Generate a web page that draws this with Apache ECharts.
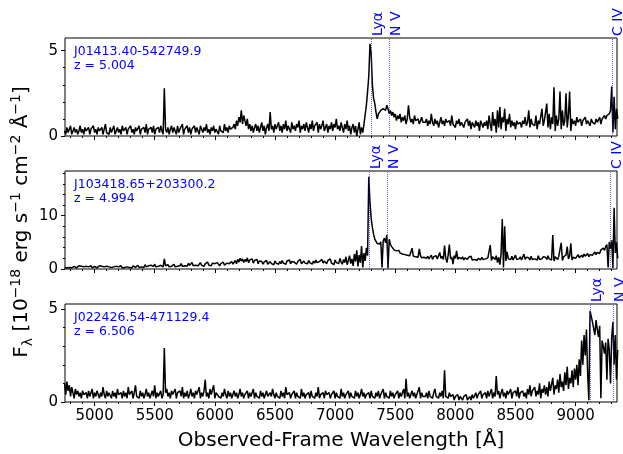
<!DOCTYPE html>
<html><head><meta charset="utf-8">
<script src="https://cdn.jsdelivr.net/npm/echarts@6/dist/echarts.min.js"></script>
<style>html,body{margin:0;padding:0;background:#fff}#c{width:623px;height:454px}</style>
</head><body><div id="c"></div>
<script>
const lamStart = 4750, lamStep = 10;

// J01413.40-542749.9  (z = 5.004)
const flux1 = [
0.3,0.1,0.5,0.2,0.4,0.6,0.1,0.3,0.5,0.2, 0.4,0.1,0.3,0.6,0.2,0.4,0.1,0.5,0.3,0.2, 0.5,0.1,0.4,0.3,0.6,0.2,0.4,0.1,0.5,0.3, 0.2,0.5,0.1,0.4,0.7,0.2,0.3,0.1,0.5,0.2, 0.4,0.6,0.1,0.3,0.5,0.2,0.4,0.1,0.6,0.3,
0.2,0.5,0.1,0.4,0.3,0.6,0.2,0.4,0.1,0.5, 0.3,0.2,0.6,0.1,0.4,0.3,0.5,0.2,0.7,0.1, 0.4,0.3,0.5,0.2,0.6,0.1,0.4,0.3,0.5,0.2, 0.6,0.3,0.1,2.8,0.4,0.2,0.5,0.1,0.4,0.6, 0.2,0.5,0.3,0.1,0.6,0.2,0.4,0.3,0.7,0.1,
0.4,0.3,0.6,0.2,0.5,0.1,0.4,0.3,0.6,0.2, 0.5,0.3,0.1,0.6,0.4,0.2,0.5,0.3,0.7,0.2, 0.4,0.1,0.5,0.3,0.6,0.2,0.4,0.5,0.1,0.6, 0.3,0.4,0.2,0.7,0.3,0.5,0.2,0.6,0.4,0.3, 0.5,0.7,0.4,0.9,0.6,1.1,0.8,1.5,0.7,1.2,
0.9,0.6,1.0,0.4,0.7,0.3,0.6,0.2,0.5,0.7, 0.3,0.6,0.2,0.5,0.8,0.3,0.6,0.1,0.5,0.7, 0.3,1.4,0.4,0.6,0.2,0.7,0.4,0.5,0.8,0.3, 0.6,0.2,0.7,0.4,0.9,0.3,0.6,0.5,0.2,0.8, 0.4,0.6,0.3,0.7,0.5,0.9,0.2,0.6,0.4,0.7,
0.3,0.8,0.5,0.2,0.7,0.4,0.9,0.3,0.6,0.5, 0.8,0.2,0.7,0.4,0.6,0.9,0.3,0.5,0.7,0.2, 0.6,0.4,0.8,0.3,0.7,0.5,1.0,0.4,0.6,0.3, 0.8,0.5,0.2,0.7,0.4,0.9,0.3,0.6,0.1,0.5, 0.7,0.2,0.6,0.0,0.4,0.8,0.1,0.5,0.2,0.7,
0.6,1.8,2.6,3.5,5.4,4.8,3.0,2.2,1.9,1.4, 1.0,1.3,1.2,1.5,1.4,1.6,1.7,1.5,1.8,1.6, 1.3,1.5,1.2,1.4,1.1,1.3,0.9,1.2,1.0,1.3, 0.8,1.1,0.9,1.2,0.7,1.0,1.8,1.1,0.8,1.0, 0.7,1.2,0.9,0.8,1.0,0.7,0.9,1.1,0.8,0.9,
0.8,1.0,0.6,0.9,0.7,1.3,0.8,0.6,1.0,0.7, 0.9,0.5,0.8,1.1,0.7,0.9,0.6,1.0,0.8,0.7, 0.9,0.6,1.2,0.7,0.8,0.5,0.9,0.7,1.0,0.6, 0.8,0.9,0.5,0.8,0.7,1.0,0.6,0.9,0.4,0.8, 0.7,0.5,0.9,0.6,0.8,0.3,0.9,0.7,0.5,0.8,
0.6,0.9,0.4,1.2,0.7,0.3,1.4,0.6,1.0,0.2, 1.5,0.5,1.7,0.4,1.1,0.8,1.6,0.3,1.0,0.7, 1.3,0.5,0.9,0.6,0.8,0.4,0.9,0.7,0.6,0.8, 0.5,0.9,0.7,1.1,0.6,0.8,1.5,0.5,1.0,0.7, 0.8,0.6,1.2,0.4,0.9,0.7,0.8,1.6,0.6,0.9,
0.9,1.9,0.5,1.3,0.4,1.1,0.7,2.85,0.3,1.2, 0.6,1.0,2.6,0.4,1.5,0.6,0.9,2.5,0.5,1.2, 2.6,0.3,1.0,0.7,0.9,0.6,1.1,0.8,0.7,1.0, 0.6,0.9,0.8,1.1,0.7,0.9,0.8,0.6,1.0,0.8, 0.9,0.7,1.0,0.8,0.9,1.1,0.7,1.0,0.9,1.2,
1.0,1.2,1.1,1.3,1.5,2.9,0.2,2.3,0.4,1.6,1.0
];

// J103418.65+203300.2  (z = 4.994)
const flux2 = [
0.3,0.5,0.2,0.4,0.3,0.6,0.2,0.4,0.5,0.3, 0.2,0.4,0.6,0.3,0.5,0.2,0.4,0.3,0.5,0.2, 0.4,0.3,0.6,0.2,0.4,0.5,0.3,0.2,0.4,0.6, 0.3,0.5,0.2,0.4,0.3,0.5,0.2,0.4,0.6,0.3, 0.2,0.4,0.3,0.5,0.2,0.4,0.3,0.6,0.2,0.4,
0.3,0.5,0.4,0.6,0.3,0.5,0.2,0.6,0.4,0.3, 0.5,0.7,0.3,0.5,0.4,0.6,0.3,0.8,0.4,0.5, 0.6,0.3,0.7,0.4,0.5,0.9,0.4,0.6,0.5,0.3, 0.7,0.5,0.4,1.9,0.6,0.5,0.8,0.4,0.7,0.5, 0.6,0.9,0.4,0.7,0.5,0.8,0.6,1.0,0.5,0.7,
0.6,0.9,0.5,1.1,0.7,0.8,1.2,0.6,0.9,0.7, 1.0,0.6,0.8,1.2,0.7,0.9,0.5,1.0,0.8,1.3, 0.7,0.9,0.6,1.1,0.8,1.0,0.7,1.2,0.9,0.6, 1.0,0.8,1.3,0.7,0.9,1.1,0.8,1.0,0.7,1.4, 0.9,1.2,1.6,1.0,1.8,1.3,2.0,1.5,1.9,1.2,
1.8,1.4,2.1,1.2,1.7,1.5,1.9,1.1,1.6,1.3, 1.8,1.0,1.5,1.2,1.4,0.9,1.3,1.1,1.6,0.9, 1.2,1.4,1.0,1.3,0.8,1.5,1.1,1.2,0.9,1.4, 1.0,1.6,1.1,1.3,0.9,1.5,1.2,1.7,1.0,1.4, 1.1,1.3,1.6,0.9,1.4,1.2,1.8,1.0,1.3,1.5,
1.1,1.4,1.0,1.6,1.2,1.3,0.9,1.5,1.1,1.7, 1.2,1.0,1.4,1.3,1.8,1.1,1.5,1.2,1.0,1.6, 1.3,1.9,1.1,1.4,0.8,1.7,1.2,1.5,1.0,2.0, 1.3,0.9,1.8,1.2,2.3,0.8,1.6,2.5,1.0,1.9, 0.6,2.8,1.4,3.5,0.5,2.6,1.2,4.3,0.3,3.0,
1.5,4.0,2.5,17.3,12.5,9.5,7.8,6.5,5.6,5.2, 4.8,5.0,4.7,5.1,0.3,5.3,5.8,4.9,6.4,0.2, 5.6,4.6,4.2,4.0,3.6,3.9,3.4,3.2,3.5,3.0, 3.3,2.8,3.1,2.7,3.0,2.6,2.9,2.5,2.8,3.9, 2.4,2.7,2.3,2.6,2.2,3.8,2.5,2.1,2.4,2.2,
2.3,2.0,2.4,1.9,2.2,2.6,1.8,2.3,2.1,2.5, 1.9,2.2,3.1,2.0,2.4,1.8,4.4,2.1,1.2,2.6, 4.6,1.9,2.3,0.9,2.5,2.0,3.4,1.8,2.2,2.0, 1.9,2.3,1.7,2.1,2.0,1.8,2.2,1.9,2.4,1.7, 2.0,1.8,2.1,1.6,2.0,1.9,1.7,2.2,1.8,1.9,
1.9,1.7,2.1,1.8,4.5,1.6,2.3,2.0,1.8,2.5, 1.2,2.2,0.8,2.8,9.4,0.3,8.0,1.5,3.2,1.9, 2.1,1.8,2.4,1.7,2.0,2.6,1.8,2.1,1.9,2.3, 1.7,2.0,2.8,1.8,2.2,1.9,2.1,1.7,2.4,1.8, 2.0,1.9,2.2,1.7,2.5,1.8,2.1,1.9,2.3,2.0,
2.2,1.8,2.5,1.9,2.1,1.7,6.4,1.5,2.3,2.0, 1.8,2.4,2.1,4.9,1.6,2.3,2.0,2.6,4.2,1.9, 2.4,4.8,1.7,2.2,2.5,2.0,2.3,2.7,2.1,2.4, 2.6,2.2,2.8,2.4,2.5,2.9,2.3,2.7,3.0,2.6, 2.9,3.2,2.7,3.1,3.4,2.9,3.6,3.3,3.9,3.5,
4.2,4.6,0.3,5.1,3.8,5.4,0.2,11.5,3.0,5.0,2.0
];

// J022426.54-471129.4  (z = 6.506)
const flux3 = [
1.0,0.4,1.1,0.6,0.9,0.3,0.8,0.5,0.2,0.7, 0.4,0.6,0.3,0.5,0.2,0.6,0.4,0.3,0.5,0.2, 0.6,0.3,0.4,0.7,0.2,0.5,0.3,0.6,0.4,0.2, 0.5,0.3,0.8,0.4,0.2,0.6,0.3,0.5,0.4,0.2, 0.6,0.3,0.5,0.2,0.7,0.4,0.3,0.5,0.2,0.6,
0.3,0.5,0.2,0.8,0.4,0.3,0.6,0.2,0.5,0.9, 0.3,0.4,0.2,0.6,0.3,0.5,0.2,0.4,0.7,0.3, 0.5,0.2,0.4,0.6,0.3,0.9,0.2,0.5,0.3,0.4, 0.6,0.2,0.4,2.9,0.5,0.7,0.3,0.5,0.2,0.6, 0.4,0.3,0.7,0.2,0.5,0.4,0.6,0.3,0.8,0.2,
0.5,0.3,0.6,0.2,0.4,0.7,0.3,0.5,0.2,0.6, 0.4,0.3,0.8,0.2,0.5,0.3,0.6,1.2,0.3,0.5, 0.2,0.7,0.4,0.3,0.9,0.2,0.5,0.6,0.3,0.4, 0.2,0.5,0.3,0.7,0.4,0.2,0.6,0.3,0.5,0.2, 0.4,0.6,0.3,0.5,0.2,0.4,0.7,0.3,0.5,0.2,
0.4,0.3,0.6,0.2,0.5,0.3,0.4,0.7,0.2,0.5, 0.3,0.4,0.2,0.6,0.3,0.5,0.2,0.4,0.6,0.3, 0.2,0.5,0.3,0.7,0.4,0.2,0.5,0.3,0.4,0.2, 0.6,0.3,0.5,0.2,0.8,0.4,0.3,0.5,0.2,0.4, 0.3,0.6,0.2,0.5,0.3,0.4,0.2,0.7,0.3,0.5,
0.2,0.4,0.3,0.5,0.2,0.6,0.3,0.4,0.2,0.5, 0.3,0.8,0.2,0.4,0.3,0.5,0.2,0.6,0.4,0.3, 0.5,0.2,0.4,0.3,0.6,0.2,0.5,0.3,0.4,0.2, 0.7,0.3,0.5,0.2,0.4,0.3,0.6,0.2,0.5,0.3, 0.4,0.2,0.6,0.3,0.5,0.2,0.4,0.7,0.3,0.5,
0.2,0.4,0.3,0.5,0.2,0.6,0.3,0.4,0.2,0.5, 0.3,0.6,0.2,0.4,0.3,0.7,0.2,0.5,0.3,0.4, 0.2,0.6,0.3,0.5,0.2,0.4,0.3,0.6,0.2,0.5, 0.3,0.4,0.7,0.2,1.25,0.3,0.5,0.2,0.4,0.6, 0.3,0.5,0.2,0.4,0.3,0.8,0.2,0.5,0.3,0.4,
0.3,0.5,0.2,0.6,0.3,0.4,0.2,0.5,0.7,0.3, 0.4,0.2,0.5,0.3,0.6,0.2,1.7,0.3,0.4,0.2, 0.5,0.3,0.2,0.4,0.1,0.3,0.2,0.4,0.1,0.3, 0.2,0.1,0.3,0.2,0.4,0.1,0.2,0.3,0.1,0.4, 0.2,0.3,0.5,0.2,0.4,0.3,0.6,0.2,0.4,0.3,
0.5,0.2,0.6,0.3,0.4,0.7,0.2,0.5,0.3,1.4, 0.4,0.6,0.2,0.5,0.7,0.3,0.5,0.2,0.6,0.4, 0.3,0.7,0.2,0.5,0.4,0.6,0.3,0.8,0.2,0.5, 0.4,0.6,0.3,0.5,0.2,0.7,0.4,0.9,0.3,0.6, 0.5,0.8,0.3,0.6,0.4,1.0,0.2,0.7,0.5,0.9,
0.4,0.8,0.3,1.1,0.6,0.5,1.3,0.4,0.9,0.7, 1.2,0.5,1.5,0.8,1.1,0.6,1.6,0.9,1.9,0.7, 1.3,1.0,1.7,0.8,1.8,1.2,2.0,0.9,2.3,1.4, 3.3,2.0,3.6,2.5,3.9,1.5,0.1,4.9,4.6,4.3, 4.2,3.6,4.4,3.9,3.5,4.1,0.2,3.3,3.0,2.6,
3.2,1.2,3.4,2.8,1.0,3.5,4.3,2.0,3.6,1.2,2.8
];

const objectNames = ['J01413.40-542749.9', 'J103418.65+203300.2', 'J022426.54-471129.4'];
const redshifts = [5.004, 4.994, 6.506];
const lineNames = ['Lyα', 'N V', 'C IV'];
const lineRest = [1215.67, 1240.81, 1549.06];
const yMax = [5.74, 18.4, 5.27];
const yMajorTicks = [[0, 5], [0, 10], [0, 5]];
const yMinorTicks = [[1, 2, 3, 4], [2, 4, 6, 8, 12, 14, 16, 18], [1, 2, 3, 4]];
const xMajorTicks = [5000, 5500, 6000, 6500, 7000, 7500, 8000, 8500, 9000];
const xMin = 4754, xMax = 9344;

const xMinorTicks = [];
for (let v = 4800; v <= 9300; v += 100) if (v % 500 !== 0) xMinorTicks.push(v);

const fluxes = [flux1, flux2, flux3];
const FONT = '"DejaVu Sans", sans-serif';
const gridTops = [38, 171, 304];
const gridH = 98, gridLeft = 65, gridW = 552;

const chart = echarts.init(document.getElementById('c'), null, {renderer: 'canvas'});

const grids = [], xAxes = [], yAxes = [], series = [];
for (let i = 0; i < 3; i++) {
  grids.push({left: gridLeft, top: gridTops[i], width: gridW, height: gridH,
    show: true, borderColor: '#000', borderWidth: 1, backgroundColor: 'transparent', containLabel: false});
  xAxes.push({gridIndex: i, type: 'value', min: xMin, max: xMax, position: 'bottom',
    axisLine: {show: false}, splitLine: {show: false},
    axisTick: {show: true, customValues: xMajorTicks, length: 4, lineStyle: {color: '#000', width: 1}},
    axisLabel: {show: i === 2, customValues: xMajorTicks, formatter: v => String(v),
      color: '#000', fontSize: 15, fontFamily: FONT, margin: 7}});
  xAxes.push({gridIndex: i, type: 'value', min: xMin, max: xMax, position: 'bottom',
    axisLine: {show: false}, splitLine: {show: false}, axisLabel: {show: false},
    axisTick: {show: true, customValues: xMinorTicks, length: 2, lineStyle: {color: '#000', width: 1}}});
  yAxes.push({gridIndex: i, type: 'value', min: 0, max: yMax[i], position: 'left',
    axisLine: {show: false}, splitLine: {show: false},
    axisTick: {show: true, customValues: yMajorTicks[i], length: 4, lineStyle: {color: '#000', width: 1}},
    axisLabel: {show: true, customValues: yMajorTicks[i], formatter: v => String(v),
      color: '#000', fontSize: 15, fontFamily: FONT, margin: 7}});
  yAxes.push({gridIndex: i, type: 'value', min: 0, max: yMax[i], position: 'left',
    axisLine: {show: false}, splitLine: {show: false}, axisLabel: {show: false},
    axisTick: {show: true, customValues: yMinorTicks[i], length: 2, lineStyle: {color: '#000', width: 1}}});

  const obs = lineRest.map(r => r * (1 + redshifts[i])).filter(w => w >= xMin && w <= xMax);
  series.push({
    type: 'line', xAxisIndex: 2 * i, yAxisIndex: 2 * i, symbol: 'none', smooth: false,
    clip: true, animation: false, silent: true,
    lineStyle: {color: '#000', width: 1.5},
    data: fluxes[i].map((f, k) => [lamStart + k * lamStep, f]),
    markLine: {silent: true, symbol: 'none', animation: false, label: {show: false},
      lineStyle: {color: 'rgba(40,40,255,0.7)', type: 'dotted', width: 1},
      data: obs.map(w => ({xAxis: w}))}
  });
}

const graphics = [];
for (let i = 0; i < 3; i++) {
  graphics.push({type: 'text', x: 74, y: gridTops[i] + 14, silent: true,
    style: {text: objectNames[i], fill: '#0000ff', font: '12.5px ' + FONT, verticalAlign: 'middle', align: 'left'}});
  graphics.push({type: 'text', x: 74, y: gridTops[i] + 28, silent: true,
    style: {text: 'z = ' + redshifts[i].toFixed(3), fill: '#0000ff', font: '12.5px ' + FONT, verticalAlign: 'middle', align: 'left'}});
}
graphics.push({type: 'text', x: 341, y: 441, silent: true,
  style: {text: 'Observed-Frame Wavelength [Å]', fill: '#000', font: '20px ' + FONT, align: 'center', verticalAlign: 'middle'}});
graphics.push({type: 'text', x: 22, y: 222, rotation: Math.PI / 2, silent: true,
  style: {
    text: '{m|F}{sub|λ}{m| [10}{sup|−18}{m| erg s}{sup|−1}{m| cm}{sup|−2}{m| Å}{sup|−1}{m|]}',
    align: 'center', verticalAlign: 'middle', fill: '#000',
    rich: {
      m: {fontSize: 20, fontFamily: FONT, fill: '#000'},
      sup: {fontSize: 14, fontFamily: FONT, fill: '#000', padding: [0, 0, 12, 0]},
      sub: {fontSize: 14, fontFamily: FONT, fill: '#000', padding: [12, 0, 0, 0]}
    }
  }});

chart.setOption({animation: false, backgroundColor: '#fff', grid: grids, xAxis: xAxes, yAxis: yAxes, series: series, graphic: graphics});

// line-name labels above each panel, positioned through the axis scale
for (let i = 0; i < 3; i++) {
  lineRest.forEach((r, j) => {
    const w = r * (1 + redshifts[i]);
    if (w < xMin || w > xMax) return;
    const px = chart.convertToPixel({xAxisIndex: 2 * i}, w);
    graphics.push({type: 'text', x: px, y: gridTops[i] - 2, rotation: Math.PI / 2, silent: true,
      style: {text: lineNames[j], fill: '#0000ff', font: '14px ' + FONT, align: 'left', verticalAlign: 'top'}});
  });
}
chart.setOption({graphic: graphics});
</script></body></html>
